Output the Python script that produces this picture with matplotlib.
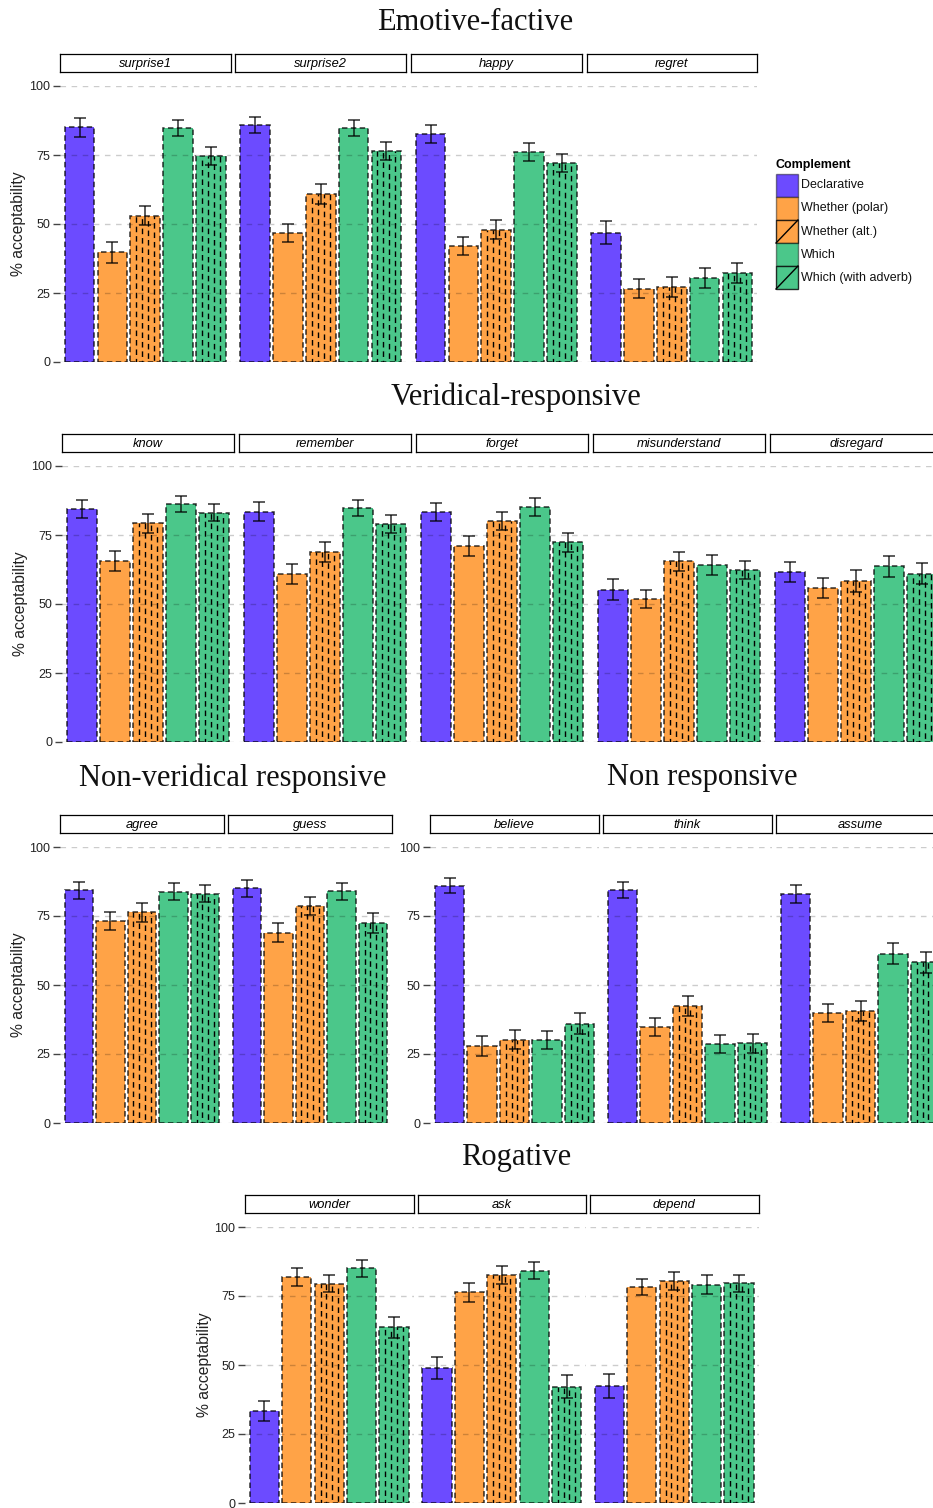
#plot.py

# Imports
import matplotlib
matplotlib.use('Agg')
import matplotlib.pyplot as plt
from matplotlib.patches import Rectangle
import numpy as np

plt.rcParams['font.family'] = ['Liberation Sans', 'DejaVu Sans']

W, H = 933, 1508

complements = ['Declarative', 'Whether (polar)', 'Whether (alt.)', 'Which', 'Which (with adverb)']
colors = ['#6c4bff', '#ffa347', '#ffa347', '#4bc78a', '#4bc78a']
hatched = [False, False, True, False, True]

# Emotive-factive
emotive_verbs = ['surprise1', 'surprise2', 'happy', 'regret']
emotive_means = [[85.1, 39.8, 53.0, 84.8, 74.6],
                 [85.9, 46.7, 60.9, 84.8, 76.4],
                 [82.6, 42.0, 48.0, 76.1, 72.1],
                 [46.8, 26.6, 27.1, 30.3, 32.2]]
emotive_err = [[3.4, 3.8, 3.5, 3.0, 3.4],
               [3.0, 3.4, 3.6, 2.8, 3.2],
               [3.2, 3.4, 3.4, 3.3, 3.1],
               [4.2, 3.4, 3.6, 3.6, 3.7]]

# Veridical-responsive
veridical_verbs = ['know', 'remember', 'forget', 'misunderstand', 'disregard']
veridical_means = [[84.3, 65.6, 79.3, 86.3, 83.1],
                   [83.5, 60.9, 68.8, 84.8, 79.0],
                   [83.2, 71.0, 80.1, 85.1, 72.3],
                   [55.1, 51.8, 65.5, 64.0, 62.2],
                   [61.6, 55.8, 58.3, 63.6, 61.0]]
veridical_err = [[3.3, 3.5, 3.4, 3.0, 3.0],
                 [3.3, 3.5, 3.6, 3.0, 3.1],
                 [3.3, 3.7, 3.3, 3.2, 3.5],
                 [3.8, 3.4, 3.4, 3.6, 3.3],
                 [3.6, 3.8, 4.1, 3.9, 3.7]]

# Non-veridical responsive
nonver_verbs = ['agree', 'guess']
nonver_means = [[84.4, 73.3, 76.3, 83.8, 83.0],
                [85.0, 69.0, 78.6, 83.9, 72.5]]
nonver_err = [[3.1, 3.3, 3.4, 3.0, 3.1],
              [3.1, 3.4, 3.3, 3.2, 3.6]]

# Non responsive
nonresp_verbs = ['believe', 'think', 'assume']
nonresp_means = [[86.0, 27.9, 30.2, 30.0, 36.0],
                 [84.4, 34.8, 42.5, 28.6, 28.9],
                 [83.0, 39.9, 40.5, 61.3, 58.2]]
nonresp_err = [[2.8, 3.6, 3.5, 3.2, 3.7],
               [2.9, 3.2, 3.6, 3.4, 3.5],
               [3.3, 3.3, 3.6, 3.8, 3.8]]

# Rogative
rogative_verbs = ['wonder', 'ask', 'depend']
rogative_means = [[33.3, 81.9, 79.5, 85.0, 63.7],
                  [49.0, 76.4, 82.5, 84.1, 42.1],
                  [42.4, 78.3, 80.5, 79.1, 79.6]]
rogative_err = [[3.6, 3.4, 3.2, 3.0, 3.8],
                [3.9, 3.4, 3.3, 3.1, 4.1],
                [4.3, 3.0, 3.3, 3.4, 3.0]]


fig = plt.figure(figsize=(W / 100, H / 100), dpi=100)


def px_axes(x0, y0, x1, y1):
    """Axes from pixel box (top-left origin)."""
    return fig.add_axes([x0 / W, 1 - y1 / H, (x1 - x0) / W, (y1 - y0) / H])


def draw_panel(ax, vals, errs, show_y):
    x = np.arange(1, 6)
    for i in range(5):
        ax.bar(x[i], vals[i], width=0.9, color=colors[i], edgecolor=(0, 0, 0, 0.8),
               linestyle=(0, (3.6, 2.2)), linewidth=1.1, zorder=2)
        if hatched[i]:
            for f in [0.2, 0.4, 0.6, 0.8]:
                xx = x[i] - 0.45 + f * 0.9
                ax.plot([xx, xx], [0, vals[i]], color='black', lw=1.0,
                        linestyle=(f * 7, (4.0, 2.8)), zorder=3)
    for g in [0, 25, 50, 75, 100]:
        ax.axhline(g, color=(0, 0, 0, 0.2), lw=1.0, linestyle=(0, (4, 4)), zorder=4)
    ax.errorbar(x, vals, yerr=errs, fmt='none', ecolor=(0, 0, 0, 0.75), elinewidth=1.2,
                capsize=4.6, capthick=1.2, zorder=5)
    ax.set_xlim(0.4, 5.6)
    ax.set_ylim(0, 100)
    for s in ax.spines.values():
        s.set_visible(False)
    ax.set_xticks([])
    ax.patch.set_alpha(0)
    if show_y:
        ax.set_yticks([0, 25, 50, 75, 100])
        ax.tick_params(axis='y', length=5, width=1, color='#444444', labelsize=9, pad=2,
                       labelcolor='#222222')
    else:
        ax.set_yticks([])


def draw_strip(x0, x1, y0, y1, label):
    sa = px_axes(x0, y0, x1, y1)
    sa.set_xticks([])
    sa.set_yticks([])
    for s in sa.spines.values():
        s.set_linewidth(0.9)
        s.set_color('black')
    sa.text(0.5, 0.45, label, ha='center', va='center', fontsize=9.3, style='italic',
            transform=sa.transAxes)


def draw_row(verbs, means, errs, x_start, width, gap, strip_top, top, bottom, ylabel_x=None):
    for k, verb in enumerate(verbs):
        x0 = x_start + k * (width + gap)
        ax = px_axes(x0, top, x0 + width, bottom)
        draw_panel(ax, means[k], errs[k], k == 0)
        draw_strip(x0, x0 + width, strip_top, strip_top + 18, verb)
    if ylabel_x is not None:
        fig.text(ylabel_x / W, 1 - ((top + bottom) / 2) / H, '% acceptability', rotation=90,
                 ha='center', va='center', fontsize=11.3, color='#222222')


def title(x, y, s):
    fig.text(x / W, 1 - y / H, s, ha='center', va='center', fontsize=22,
             family=['Liberation Serif', 'DejaVu Serif'], color='#111111')


# Rows
title(475, 23, 'Emotive-factive')
draw_row(emotive_verbs, emotive_means, emotive_err, 60, 170.5, 5, 54, 86, 362, ylabel_x=19)

title(516, 397, 'Veridical-responsive')
draw_row(veridical_verbs, veridical_means, veridical_err, 62, 172, 5, 434, 466, 742, ylabel_x=21)

title(233, 778, 'Non-veridical responsive')
title(702, 778, 'Non responsive')
draw_row(nonver_verbs, nonver_means, nonver_err, 60, 164, 4, 815, 847, 1123, ylabel_x=19)
draw_row(nonresp_verbs, nonresp_means, nonresp_err, 430, 169, 4, 815, 847, 1123)

title(516, 1158, 'Rogative')
draw_row(rogative_verbs, rogative_means, rogative_err, 245, 168.5, 4, 1195, 1227, 1503, ylabel_x=205)

# Legend, drawn by hand
lax = fig.add_axes([0, 0, 1, 1])
lax.set_xlim(0, W)
lax.set_ylim(H, 0)
lax.axis('off')
lax.patch.set_alpha(0)
lax.text(776, 165, 'Complement', fontsize=9, fontweight='bold', va='center', ha='left')
for i, name in enumerate(complements):
    y0 = 174 + i * 23
    lax.add_patch(Rectangle((776, y0), 22, 23, facecolor=colors[i],
                            edgecolor=(0, 0, 0, 0.8) if hatched[i] else (0, 0, 0, 0.45), lw=1))
    if hatched[i]:
        lax.plot([776, 798], [y0 + 23, y0], color='black', lw=1)
    lax.text(801, y0 + 11.5, name, fontsize=9, va='center', ha='left', color='#111111')

fig.savefig('out.png', dpi=100)
